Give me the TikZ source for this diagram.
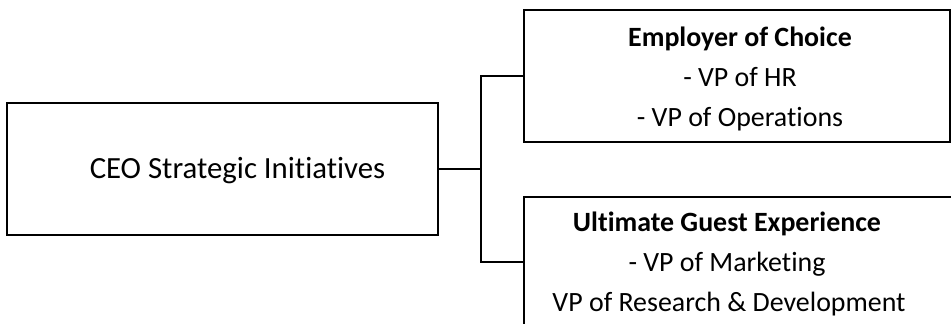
\documentclass[tikz,border=0pt]{standalone}
\usepackage{fontspec}
\setmainfont{Carlito}[Ligatures=NoCommon]
\begin{document}
\begin{tikzpicture}[x=1pt,y=-1pt,
  box/.style={draw=black,line width=1.6pt,rectangle,inner sep=0pt,outer sep=0pt,anchor=north west},
  conn/.style={draw=black,line width=1.6pt},
  big/.style={font=\fontsize{30.8}{36}\selectfont,anchor=base,inner sep=0pt},
  txt/.style={font=\fontsize{27.9}{33}\selectfont,anchor=base,inner sep=0pt},
  head/.style={font=\fontsize{27.9}{33}\selectfont\bfseries,anchor=base,inner sep=0pt}]
\useasboundingbox[clip] (0,0) rectangle (951,324);
\fill[white] (0,0) rectangle (951,324);
% boxes
\node[box,minimum width=431pt,minimum height=132pt] (ceo) at (7,103) {};
\node[box,minimum width=426pt,minimum height=132pt] (choice) at (524,10) {};
\node[box,minimum width=460pt,minimum height=130pt] (guest) at (524,197) {};
% texts
\node[big] (ceot) at (237.5,178) {CEO Strategic Initiatives};
\node[head] (c1) at (740,46) {Employer of Choice};
\node[txt] (c2) at (740,86) {- VP of HR};
\node[txt] (c3) at (740,126) {- VP of Operations};
\node[head] (g1) at (727,231) {Ultimate Guest Experience};
\node[txt] (g2) at (727,271) {- VP of Marketing};
\node[txt] (g3) at (729,311) {VP of Research \& Development};
% connectors
\coordinate (j) at ([xshift=43pt]ceo.east);
\draw[conn] (ceo.east) -- (j);
\draw[conn] (j) |- (choice.west);
\draw[conn] (j) |- (guest.west);
\end{tikzpicture}
\end{document}
